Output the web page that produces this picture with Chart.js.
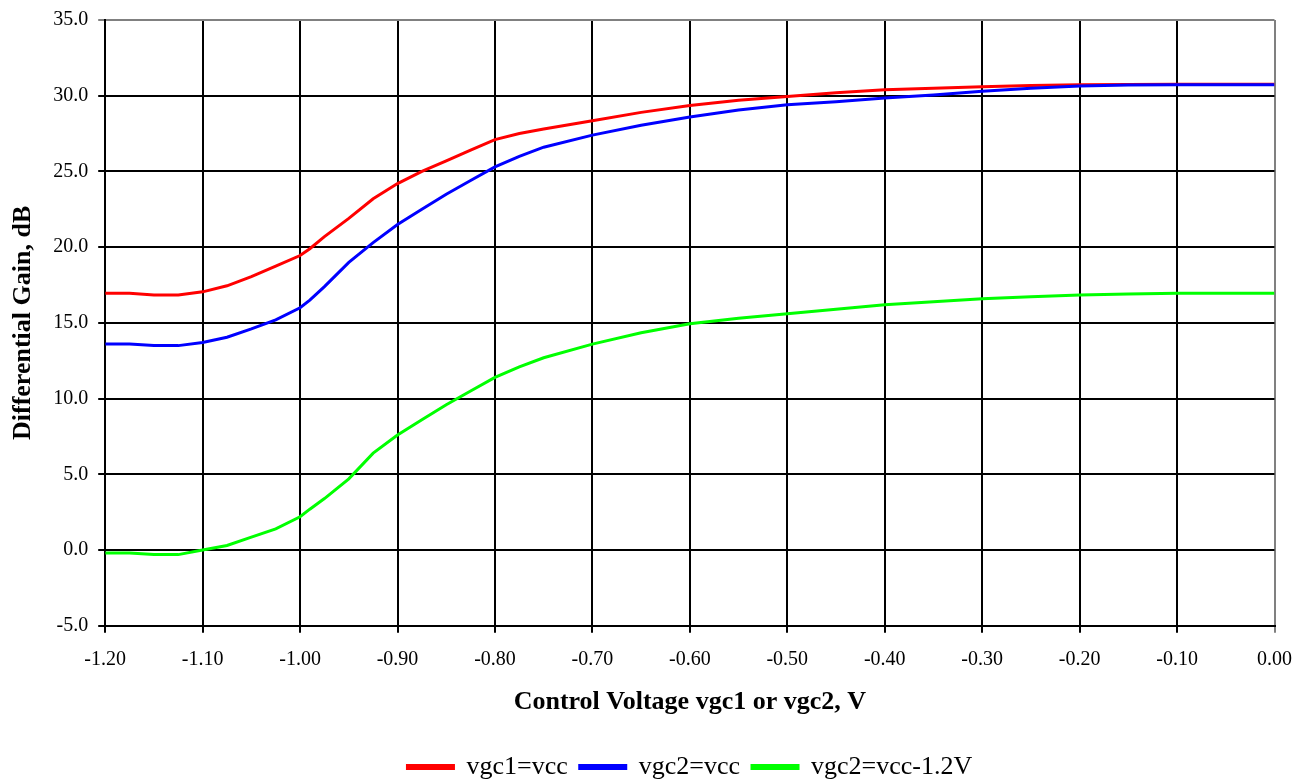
<!DOCTYPE html>
<html>
<head>
<meta charset="utf-8">
<script src="https://cdn.jsdelivr.net/npm/chart.js@4"></script>
<style>
  html, body { margin: 0; padding: 0; background: #fff; }
  #wrap { width: 1307px; height: 780px; }
</style>
</head>
<body>
<div id="wrap"><canvas id="gain"></canvas></div>
<script>
// control voltage, V
const volts = [-1.2, -1.175, -1.15, -1.125, -1.1, -1.075, -1.05, -1.025, -1.0, -0.99, -0.975,
  -0.95, -0.925, -0.9, -0.875, -0.85, -0.825, -0.8, -0.775, -0.75, -0.7, -0.65, -0.6, -0.55,
  -0.5, -0.45, -0.4, -0.35, -0.3, -0.25, -0.2, -0.15, -0.1, -0.05, 0];

// differential gain, dB
const vgc1Vcc = [16.95, 16.95, 16.85, 16.85, 17.05, 17.45, 18.05, 18.75, 19.45, 19.9, 20.7,
  21.9, 23.2, 24.2, 25.0, 25.7, 26.4, 27.1, 27.5, 27.8, 28.35, 28.9, 29.35, 29.7,
  29.95, 30.2, 30.4, 30.5, 30.6, 30.68, 30.72, 30.74, 30.75, 30.75, 30.75];
const vgc2Vcc = [13.6, 13.6, 13.5, 13.5, 13.7, 14.05, 14.6, 15.2, 16.0, 16.5, 17.4,
  19.0, 20.3, 21.5, 22.5, 23.5, 24.4, 25.3, 26.0, 26.6, 27.4, 28.05, 28.6, 29.05,
  29.4, 29.6, 29.85, 30.05, 30.3, 30.5, 30.65, 30.7, 30.72, 30.72, 30.72];
const vgc2Minus = [-0.2, -0.2, -0.3, -0.3, 0.0, 0.3, 0.85, 1.4, 2.2, 2.7, 3.4,
  4.7, 6.4, 7.6, 8.6, 9.6, 10.5, 11.4, 12.1, 12.7, 13.6, 14.35, 14.95, 15.3,
  15.6, 15.9, 16.2, 16.4, 16.6, 16.72, 16.84, 16.9, 16.95, 16.95, 16.95];

const seriesNames = ['vgc1=vcc', 'vgc2=vcc', 'vgc2=vcc-1.2V'];
const seriesColors = ['#ff0000', '#0000ff', '#00ff00'];

function pts(ys) {
  return volts.map((v, i) => ({ x: v, y: ys[i] }));
}

const serif = 'Liberation Serif, Times New Roman, serif';

// centre the legend under the plot area instead of the whole canvas
const legendUnderPlot = {
  id: 'legendUnderPlot',
  beforeDraw(chart) {
    const l = chart.legend;
    const shift = ((chart.chartArea.left + chart.chartArea.right) - (l.left + l.right)) / 2;
    l.left += shift;
    l.right += shift;
  }
};

new Chart(document.getElementById('gain'), {
  type: 'line',
  data: {
    datasets: [vgc1Vcc, vgc2Vcc, vgc2Minus].map((ys, i) => ({
      label: seriesNames[i],
      data: pts(ys),
      borderColor: seriesColors[i],
      backgroundColor: seriesColors[i],
      borderWidth: 3,
      pointRadius: 0,
      tension: 0,
      order: 3 - i
    }))
  },
  plugins: [legendUnderPlot],
  options: {
    responsive: true,
    maintainAspectRatio: false,
    animation: false,
    layout: { padding: { left: 0, right: 26, top: 1, bottom: -10 } },
    plugins: {
      tooltip: { enabled: false },
      legend: {
        position: 'bottom',
        labels: {
          sort: (a, b) => a.datasetIndex - b.datasetIndex,
          color: '#000',
          font: { family: serif, size: 26 },
          boxWidth: 46,
          boxHeight: 3,
          padding: 12
        }
      }
    },
    scales: {
      x: {
        type: 'linear',
        min: -1.2,
        max: 0,
        ticks: {
          stepSize: 0.1,
          color: '#000',
          font: { family: serif, size: 20 },
          padding: 15,
          maxRotation: 0,
          callback: v => v.toFixed(2)
        },
        grid: {
          color: ctx => (ctx.tick && Math.abs(ctx.tick.value) < 1e-9 ? '#808080' : '#000'),
          lineWidth: 2,
          tickLength: 7
        },
        border: { color: '#000', width: 2 },
        title: {
          display: true,
          text: 'Control Voltage vgc1 or vgc2, V',
          color: '#000',
          font: { family: serif, size: 26, weight: 'bold' },
          padding: { top: 0, bottom: 24 }
        }
      },
      y: {
        min: -5,
        max: 35,
        ticks: {
          stepSize: 5,
          color: '#000',
          font: { family: serif, size: 20, lineHeight: 1 },
          padding: 10,
          callback: v => v.toFixed(1)
        },
        grid: {
          color: ctx => (ctx.tick && ctx.tick.value === 35 ? '#808080' : '#000'),
          lineWidth: 2,
          tickLength: 7
        },
        border: { color: '#000', width: 2 },
        title: {
          display: true,
          text: 'Differential Gain, dB',
          color: '#000',
          font: { family: serif, size: 26, weight: 'bold' },
          padding: { top: 8, bottom: 4 }
        }
      }
    }
  }
});
</script>
</body>
</html>
